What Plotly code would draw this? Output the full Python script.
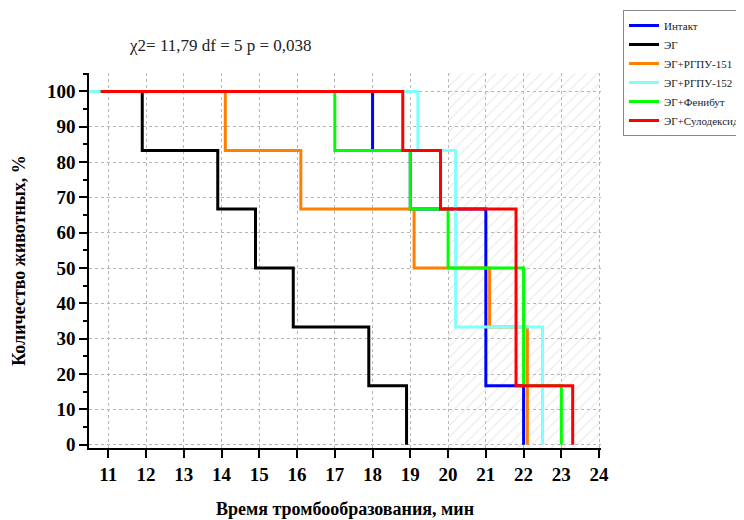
import plotly.graph_objects as go

# ---- data ----
intact_t = [10.8, 18.0, 19.0, 21.0, 22.0]
intact_s = [100, 83.3, 66.7, 16.7, 0]

eg_t = [10.8, 11.9, 13.9, 14.9, 15.9, 17.9, 18.9]
eg_s = [100, 83.3, 66.7, 50, 33.3, 16.7, 0]

rgpu151_t = [10.8, 14.1, 16.1, 19.1, 21.1, 22.1]
rgpu151_s = [100, 83.3, 66.7, 50, 33.3, 0]

rgpu152_t = [10.3, 19.2, 20.2, 22.5]
rgpu152_s = [100, 83.3, 33.3, 0]

fenibut_t = [10.8, 17.0, 19.0, 20.0, 22.0, 23.0]
fenibut_s = [100, 83.3, 66.7, 50, 16.7, 0]

sulodexid_t = [10.8, 18.8, 19.8, 21.8, 23.3]
sulodexid_s = [100, 83.3, 66.7, 16.7, 0]

series_names = ["Интакт", "ЭГ", "ЭГ+РГПУ-151", "ЭГ+РГПУ-152", "ЭГ+Фенибут", "ЭГ+Сулодексид"]
series_colors = ["#0000FF", "#000000", "#FF8000", "#80FFFF", "#00FF00", "#FF0000"]
series_t = [intact_t, eg_t, rgpu151_t, rgpu152_t, fenibut_t, sulodexid_t]
series_s = [intact_s, eg_s, rgpu151_s, rgpu152_s, fenibut_s, sulodexid_s]

hatch_x = [20, 24]
x_range = [10.49, 24.05]
y_range = [-0.9, 105.2]
x_ticks = list(range(11, 25))
y_ticks = list(range(0, 101, 10))
stat_text = "χ2= 11,79 df = 5 p = 0,038"

SERIF = "Liberation Serif"
PAGE_OFF = 8          # default body margin of the html page
W, H = 744 - PAGE_OFF, 520 - PAGE_OFF

fig = go.Figure()

# hatched region
fig.add_trace(go.Scatter(
    x=[hatch_x[0], hatch_x[1], hatch_x[1], hatch_x[0], hatch_x[0]],
    y=[y_range[0], y_range[0], y_range[1], y_range[1], y_range[0]],
    mode="lines", fill="toself", line=dict(width=0),
    fillcolor="rgba(0,0,0,0)",
    fillpattern=dict(shape="/", size=8, solidity=0.12, fgcolor="#cccccc", bgcolor="rgba(0,0,0,0)"),
    showlegend=False, hoverinfo="skip",
))

for name, col, t, s in zip(series_names, series_colors, series_t, series_s):
    fig.add_trace(go.Scatter(
        x=t, y=s, mode="lines", name=name,
        line=dict(color=col, width=3, shape="hv"),
    ))

fig.add_annotation(
    text=stat_text, xref="paper", yref="paper",
    x=(220 - 89) / 512, y=(448 - 45) / 375, xanchor="center", yanchor="middle",
    showarrow=False, font=dict(family=SERIF, size=17, color="#222"),
)

fig.update_layout(
    width=W, height=H,
    margin=dict(l=89 - PAGE_OFF, r=143, t=73 - PAGE_OFF, b=72, autoexpand=False),
    paper_bgcolor="white", plot_bgcolor="white",
    showlegend=True,
    legend=dict(
        xref="container", yref="container",
        x=(623 - PAGE_OFF) / W, y=1 - (10 - PAGE_OFF) / H, xanchor="left", yanchor="top",
        bordercolor="#888", borderwidth=1, bgcolor="white",
        font=dict(family=SERIF, size=11, color="#222"),
        itemwidth=30, tracegroupgap=0,
    ),
    xaxis=dict(
        range=x_range, tickmode="array", tickvals=x_ticks, automargin=False,
        showline=True, linecolor="black", linewidth=1.5, mirror=False,
        ticks="outside", ticklen=8, tickwidth=1.5, tickcolor="black",
        showgrid=True, gridcolor="#b5b5b5", griddash="dot", gridwidth=1,
        zeroline=False,
        tickfont=dict(family=SERIF, size=19, color="black", weight="bold"),
        title=dict(text="<b>Время тромбообразования, мин</b>", standoff=19,
                   font=dict(family=SERIF, size=18, color="black")),
    ),
    yaxis=dict(
        range=y_range, tickmode="array", tickvals=y_ticks, automargin=False,
        showline=True, linecolor="black", linewidth=1.5, mirror=False,
        ticks="outside", ticklen=8, tickwidth=1.5, tickcolor="black",
        minor=dict(dtick=5, tick0=0, ticks="outside", ticklen=4, tickwidth=1.5, tickcolor="black", showgrid=False),
        showgrid=True, gridcolor="#b5b5b5", griddash="dot", gridwidth=1,
        zeroline=False,
        tickfont=dict(family=SERIF, size=19, color="black", weight="bold"),
        title=dict(text="<b>Количество животных, %</b>", standoff=17,
                   font=dict(family=SERIF, size=18, color="black")),
    ),
)

fig.write_html("out.html")
